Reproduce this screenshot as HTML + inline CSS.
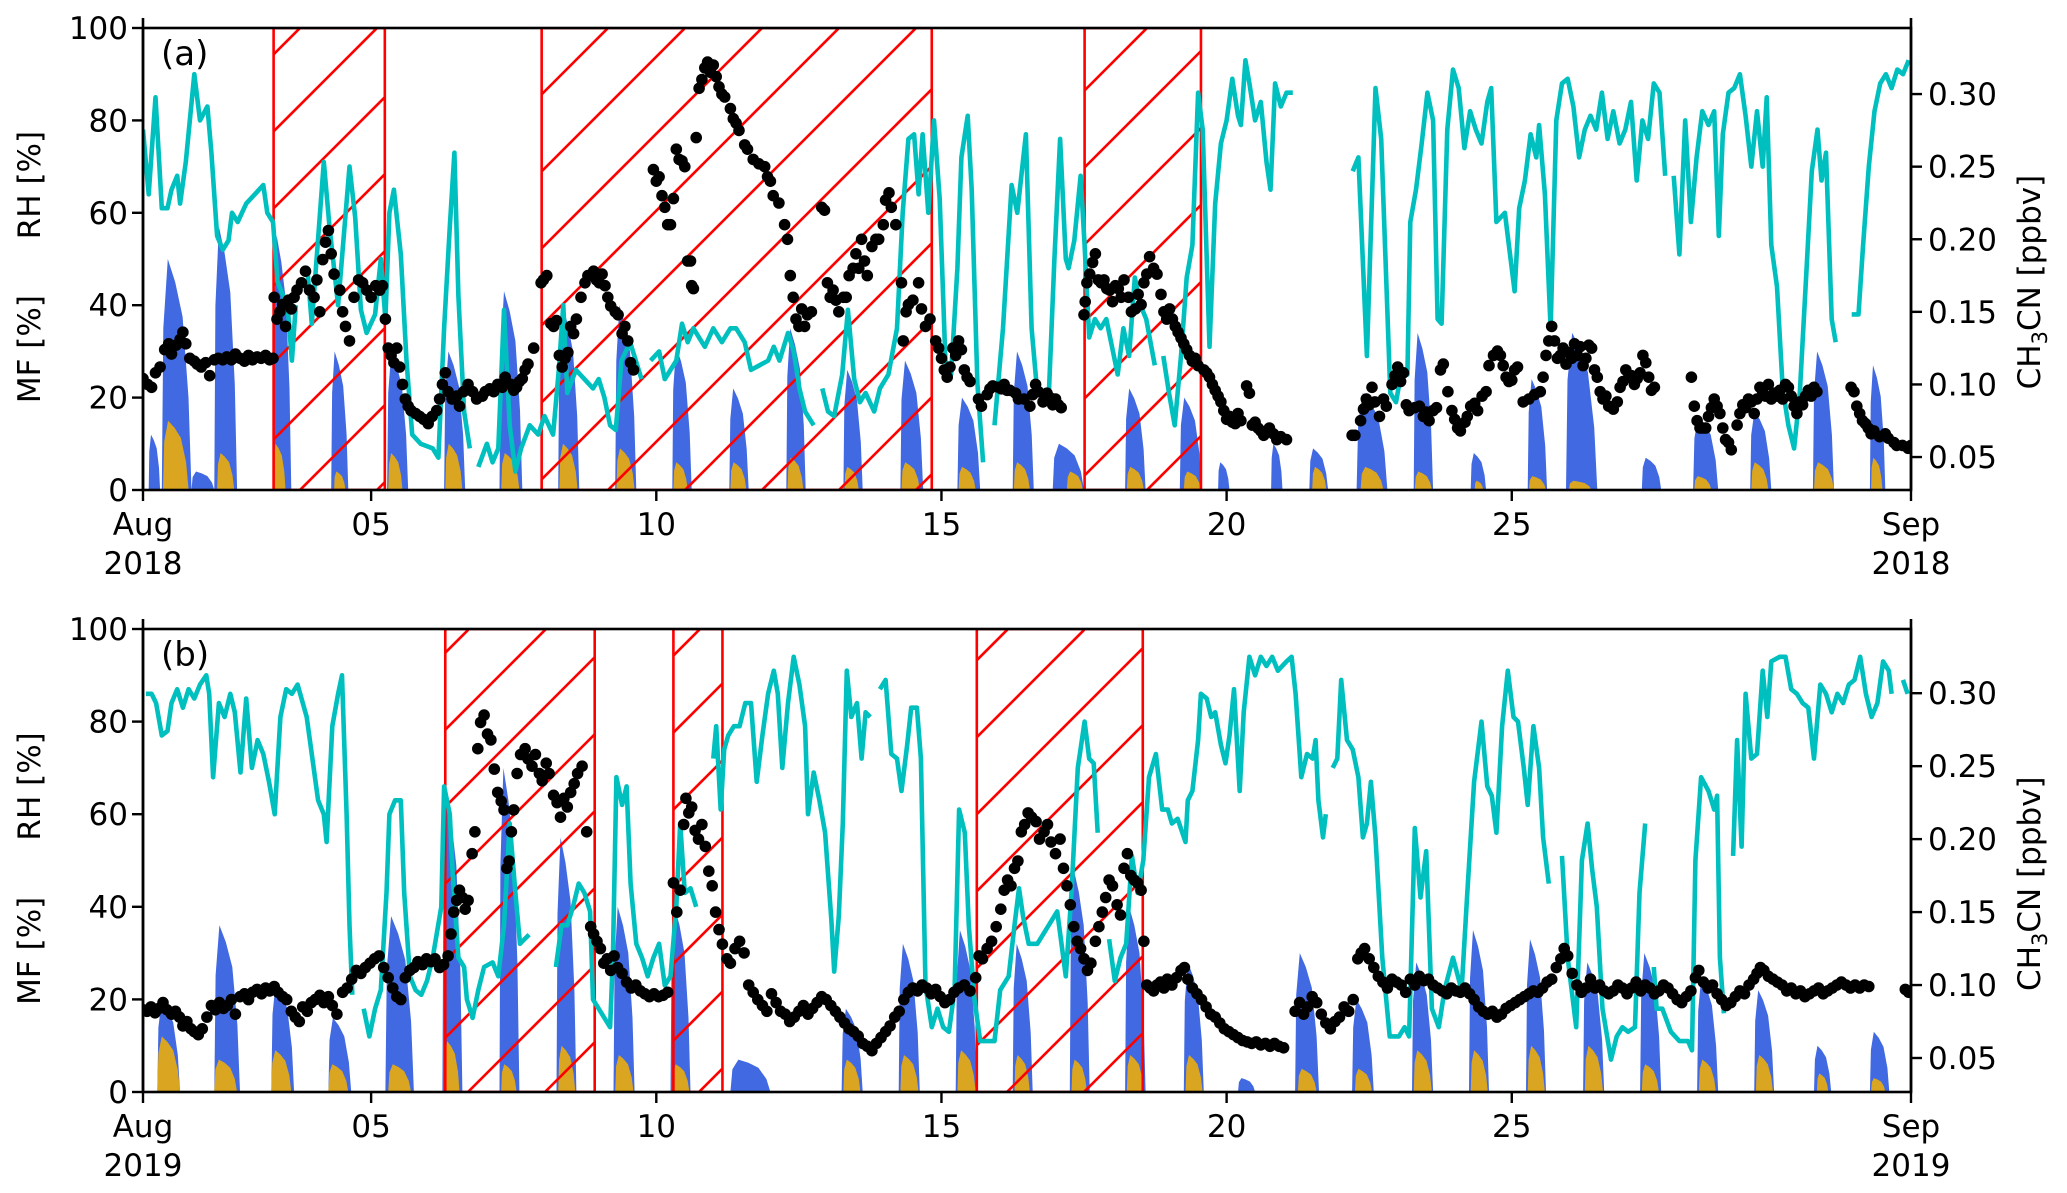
<!DOCTYPE html>
<html><head><meta charset="utf-8"><style>
html,body{margin:0;padding:0;background:#fff;}
svg{display:block;font-family:"DejaVu Sans","Liberation Sans",sans-serif;}
</style></head><body>
<svg id="chart" width="2067" height="1193" viewBox="0 0 2067 1193" xmlns="http://www.w3.org/2000/svg">
<defs>
<pattern id="hatch" patternUnits="userSpaceOnUse" width="77" height="77">
<line x1="-2" y1="22" x2="22" y2="-2" stroke="#ff0000" stroke-width="2.6"/>
<line x1="-2" y1="99" x2="99" y2="-2" stroke="#ff0000" stroke-width="2.6"/>
</pattern>
</defs>
</svg>
<script>
// ---------- data: panel (a) 2018 ----------
const xTickDays=[0,4,9,14,19,24,31];
const xTickLabelsA=["Aug","05","10","15","20","25","Sep"];
const yLeftTicks=[0,20,40,60,80,100];
const yRightTicks=[0.05,0.10,0.15,0.20,0.25,0.30];
const yRightLabels=["0.05","0.10","0.15","0.20","0.25","0.30"];
const hatchA=[[2.29,4.24],[6.99,13.83],[16.51,18.55]];
const hatchB=[[5.30,7.92],[9.30,10.16],[14.62,17.53]];
const rhA=[[0,78],[0.1,64],[0.22,85],[0.33,61],[0.43,61],[0.5,65],[0.6,68],[0.65,62],[0.75,71],[0.9,90],[1.0,80],[1.13,83],[1.2,73],[1.3,55],[1.4,52],[1.5,54],[1.56,60],[1.66,58],[1.81,62],[1.96,64],[2.11,66],[2.18,60],[2.28,58],[2.36,45],[2.46,42],[2.54,39],[2.61,28],[2.68,40],null,[2.88,48],[2.96,36],[3.17,71],[3.27,57],[3.42,40],[3.62,70],[3.72,59],[3.82,39],[3.92,34],[4.07,38],[4.17,50],[4.25,37],[4.32,60],[4.4,65],[4.52,51],[4.62,28],[4.72,12],[4.87,10],[5.08,9],[5.18,7],[5.28,35],[5.38,57],[5.46,73],[5.53,42],[5.63,17],[5.73,9],null,[5.88,5],[6.03,10],[6.13,6],[6.23,9],[6.33,39],[6.43,14],[6.53,4],[6.63,9],[6.78,14],[6.93,12],[7.04,16],[7.19,12],[7.29,26],[7.37,40],[7.44,21],[7.59,26],[7.74,24],[7.89,22],[7.99,24],[8.09,20],[8.19,14],[8.29,13],[8.39,28],[8.54,32],[8.64,28],[8.74,24],null,[8.9,28],[9.05,30],[9.15,24],[9.35,28],[9.45,36],[9.55,32],[9.65,35],[9.85,31],[10.0,35],[10.15,32],[10.3,35],[10.4,35],[10.55,32],[10.66,26],[10.81,27],[10.96,28],[11.06,31],[11.16,28],[11.31,34],[11.41,30],[11.51,22],[11.61,17],[11.76,14],null,[11.91,22],[12.01,17],[12.12,16],[12.26,25],[12.36,39],[12.47,24],[12.57,19],[12.67,21],[12.82,17],[12.92,22],[13.07,25],[13.22,35],[13.32,60],[13.42,76],[13.52,77],[13.6,64],[13.67,77],[13.77,60],[13.87,80],[13.97,63],[14.07,28],[14.17,25],[14.28,48],[14.35,72],[14.46,81],[14.53,65],[14.63,23],[14.73,6],null,[14.93,14],[15.08,35],[15.23,66],[15.33,60],[15.48,77],[15.58,35],[15.68,21],[15.73,21],[15.88,20],[15.98,50],[16.08,76],[16.18,50],[16.23,48],[16.33,54],[16.44,68],[16.51,53],[16.59,33],[16.69,37],[16.79,35],[16.89,37],[16.99,31],[17.09,25],[17.19,35],[17.29,29],[17.39,46],[17.49,40],[17.59,37],[17.74,27],null,[17.89,29],[17.99,21],[18.09,14],[18.2,29],[18.3,46],[18.4,53],[18.5,86],[18.58,78],[18.7,31],[18.8,62],[18.9,75],[19.0,80],[19.1,89],[19.2,81],[19.25,79],[19.33,93],[19.4,88],[19.5,80],[19.6,84],[19.7,71],[19.77,65],[19.85,88],[19.95,83],[20.05,86],[20.16,86],null,[21.21,69],[21.31,72],[21.46,29],[21.61,87],[21.71,76],[21.87,21],[21.97,19],[22.07,26],[22.17,25],[22.22,58],[22.32,65],[22.42,75],[22.52,86],[22.62,80],[22.7,37],[22.77,36],[22.87,78],[22.97,91],[23.07,87],[23.17,74],[23.27,82],[23.37,78],[23.47,75],[23.57,84],[23.64,87],[23.73,58],[23.88,60],[23.98,50],[24.05,43],[24.13,61],[24.23,67],[24.33,77],[24.43,72],[24.48,79],[24.58,64],[24.68,35],[24.78,80],[24.88,88],[24.98,89],[25.08,83],[25.18,72],[25.28,78],[25.38,81],[25.48,78],[25.58,86],[25.68,76],[25.78,82],[25.89,75],[25.99,78],[26.09,84],[26.19,67],[26.29,80],[26.39,76],[26.49,88],[26.59,86],[26.69,68],null,[26.84,68],[26.94,51],[27.04,80],[27.14,58],[27.24,72],[27.34,82],[27.45,79],[27.55,82],[27.63,55],[27.7,77],[27.8,86],[27.9,87],[28.0,90],[28.1,81],[28.2,70],[28.3,82],[28.4,70],[28.47,85],[28.55,53],[28.65,44],[28.75,22],[28.85,14],[28.95,9],[29.05,21],[29.16,46],[29.26,69],[29.36,78],[29.43,67],[29.51,73],[29.61,37],[29.68,32],null,[29.96,38],[30.08,38],[30.16,53],[30.26,70],[30.36,82],[30.46,88],[30.56,90],[30.66,87],[30.76,91],[30.86,90],[30.96,93]];
const ch3cnA=[[0.0,.104],[0.08,.100],[0.15,.098],[0.22,.108],[0.3,.112],[0.38,.124],[0.45,.128],[0.5,.121],[0.58,.127],[0.65,.131],[0.7,.136],[0.75,.128],[0.82,.118],[0.9,.116],[0.95,.114],[1.02,.112],[1.1,.115],[1.17,.106],[1.25,.117],[1.32,.118],[1.4,.117],[1.47,.119],[1.55,.117],[1.62,.121],[1.7,.118],[1.78,.116],[1.85,.120],[1.92,.117],[2.0,.119],[2.07,.118],[2.15,.120],[2.22,.117],[2.28,.118],[2.3,.160],[2.35,.145],[2.4,.150],[2.45,.155],[2.5,.140],[2.55,.158],[2.6,.152],[2.65,.160],[2.7,.165],[2.78,.170],[2.85,.178],[2.92,.165],[3.0,.160],[3.05,.172],[3.1,.150],[3.15,.186],[3.2,.198],[3.25,.206],[3.3,.190],[3.35,.176],[3.45,.165],[3.5,.150],[3.55,.140],[3.62,.130],[3.7,.160],[3.78,.172],[3.85,.170],[3.92,.165],[4.0,.160],[4.08,.168],[4.15,.165],[4.2,.168],[4.25,.145],[4.3,.125],[4.35,.120],[4.4,.115],[4.45,.125],[4.5,.112],[4.55,.100],[4.6,.090],[4.65,.085],[4.7,.082],[4.78,.080],[4.85,.078],[4.92,.076],[5.0,.073],[5.07,.078],[5.15,.082],[5.2,.090],[5.25,.100],[5.3,.108],[5.35,.095],[5.42,.090],[5.5,.092],[5.55,.085],[5.62,.095],[5.7,.100],[5.78,.095],[5.85,.090],[5.95,.092],[6.0,.095],[6.08,.097],[6.15,.095],[6.22,.100],[6.3,.098],[6.35,.105],[6.45,.100],[6.5,.096],[6.55,.098],[6.6,.102],[6.65,.104],[6.7,.110],[6.75,.114],[6.85,.125],[6.98,.170],[7.02,.172],[7.08,.175],[7.15,.142],[7.2,.140],[7.25,.144],[7.3,.120],[7.35,.112],[7.4,.118],[7.45,.122],[7.5,.140],[7.55,.135],[7.6,.145],[7.68,.160],[7.75,.170],[7.8,.175],[7.85,.175],[7.9,.178],[7.95,.172],[8.0,.170],[8.05,.176],[8.1,.168],[8.15,.160],[8.2,.154],[8.28,.150],[8.33,.148],[8.4,.135],[8.45,.140],[8.5,.130],[8.55,.115],[8.6,.110],[8.95,.248],[9.0,.240],[9.05,.243],[9.1,.230],[9.15,.222],[9.2,.210],[9.25,.210],[9.3,.228],[9.35,.262],[9.4,.255],[9.45,.254],[9.5,.250],[9.55,.185],[9.6,.185],[9.62,.168],[9.65,.166],[9.7,.270],[9.75,.304],[9.8,.310],[9.85,.318],[9.9,.322],[9.95,.315],[10.0,.320],[10.05,.312],[10.1,.305],[10.15,.300],[10.2,.298],[10.3,.290],[10.35,.283],[10.4,.280],[10.45,.275],[10.55,.265],[10.6,.262],[10.7,.255],[10.8,.252],[10.9,.250],[10.95,.243],[11.0,.240],[11.05,.230],[11.15,.225],[11.25,.210],[11.3,.200],[11.35,.175],[11.4,.160],[11.45,.145],[11.5,.140],[11.55,.152],[11.6,.140],[11.65,.148],[11.72,.150],[11.9,.222],[11.95,.220],[12.0,.170],[12.05,.160],[12.1,.165],[12.15,.158],[12.2,.150],[12.28,.160],[12.33,.160],[12.38,.175],[12.45,.180],[12.5,.190],[12.55,.180],[12.6,.200],[12.65,.185],[12.7,.175],[12.78,.195],[12.85,.200],[12.9,.200],[12.98,.210],[13.02,.227],[13.08,.232],[13.12,.222],[13.2,.210],[13.3,.170],[13.33,.130],[13.38,.150],[13.42,.155],[13.5,.158],[13.6,.170],[13.65,.152],[13.72,.140],[13.8,.145],[13.9,.130],[13.95,.125],[14.0,.118],[14.05,.110],[14.1,.105],[14.15,.112],[14.2,.125],[14.25,.120],[14.3,.130],[14.35,.124],[14.4,.110],[14.45,.105],[14.5,.102],[14.65,.090],[14.7,.085],[14.8,.093],[14.85,.097],[14.9,.099],[15.0,.098],[15.05,.097],[15.1,.100],[15.15,.096],[15.2,.096],[15.3,.094],[15.35,.090],[15.45,.090],[15.55,.085],[15.6,.093],[15.65,.100],[15.7,.095],[15.78,.088],[15.85,.094],[15.9,.091],[15.95,.086],[16.0,.090],[16.05,.086],[16.1,.084],[16.5,.148],[16.52,.157],[16.55,.170],[16.6,.176],[16.65,.184],[16.7,.190],[16.75,.172],[16.8,.170],[16.85,.172],[16.9,.166],[16.95,.165],[17.0,.157],[17.05,.168],[17.1,.166],[17.15,.160],[17.2,.172],[17.28,.160],[17.33,.150],[17.4,.152],[17.45,.162],[17.5,.155],[17.55,.170],[17.6,.176],[17.65,.188],[17.72,.180],[17.78,.176],[17.85,.162],[17.9,.150],[17.95,.145],[18.0,.152],[18.05,.145],[18.1,.140],[18.15,.136],[18.2,.132],[18.25,.128],[18.3,.124],[18.35,.120],[18.4,.116],[18.45,.118],[18.5,.113],[18.6,.110],[18.65,.108],[18.7,.105],[18.75,.100],[18.8,.096],[18.85,.092],[18.9,.088],[18.95,.082],[19.0,.076],[19.05,.078],[19.1,.074],[19.15,.073],[19.2,.080],[19.25,.075],[19.35,.099],[19.4,.094],[19.45,.072],[19.5,.074],[19.55,.070],[19.6,.068],[19.65,.065],[19.7,.068],[19.75,.070],[19.82,.066],[19.88,.062],[19.95,.064],[20.05,.062],[21.2,.065],[21.25,.065],[21.35,.075],[21.4,.083],[21.45,.090],[21.5,.086],[21.55,.098],[21.6,.088],[21.68,.078],[21.75,.090],[21.8,.085],[21.9,.100],[21.95,.106],[22.0,.112],[22.05,.102],[22.1,.108],[22.15,.086],[22.2,.082],[22.3,.084],[22.38,.085],[22.45,.078],[22.5,.081],[22.55,.075],[22.62,.082],[22.68,.084],[22.75,.110],[22.8,.114],[22.88,.095],[22.95,.082],[23.0,.076],[23.05,.070],[23.1,.068],[23.18,.074],[23.22,.078],[23.28,.085],[23.35,.087],[23.4,.082],[23.48,.092],[23.55,.095],[23.6,.113],[23.68,.120],[23.75,.123],[23.8,.120],[23.85,.113],[23.9,.105],[23.95,.102],[24.0,.103],[24.05,.110],[24.1,.112],[24.2,.088],[24.3,.090],[24.4,.093],[24.5,.095],[24.55,.105],[24.6,.120],[24.65,.130],[24.7,.140],[24.75,.130],[24.8,.118],[24.85,.120],[24.9,.125],[24.95,.114],[25.0,.122],[25.05,.118],[25.1,.128],[25.15,.120],[25.2,.126],[25.25,.113],[25.3,.118],[25.35,.127],[25.4,.125],[25.45,.110],[25.5,.105],[25.55,.095],[25.6,.090],[25.65,.092],[25.7,.085],[25.78,.083],[25.85,.088],[25.9,.098],[25.95,.102],[26.0,.110],[26.05,.105],[26.1,.106],[26.15,.100],[26.2,.104],[26.25,.108],[26.3,.120],[26.35,.115],[26.4,.105],[26.45,.096],[26.5,.098],[27.15,.105],[27.2,.085],[27.25,.075],[27.3,.070],[27.35,.070],[27.4,.070],[27.45,.078],[27.5,.084],[27.55,.090],[27.6,.085],[27.65,.080],[27.7,.070],[27.75,.062],[27.8,.060],[27.85,.055],[27.95,.072],[28.0,.080],[28.05,.086],[28.1,.084],[28.15,.090],[28.2,.088],[28.25,.080],[28.3,.090],[28.35,.098],[28.4,.095],[28.45,.092],[28.5,.100],[28.55,.090],[28.6,.094],[28.65,.092],[28.7,.096],[28.75,.090],[28.8,.100],[28.85,.098],[28.9,.092],[28.95,.085],[29.0,.080],[29.05,.088],[29.1,.086],[29.15,.092],[29.2,.096],[29.25,.092],[29.3,.098],[29.35,.095],[29.95,.098],[30.0,.095],[30.05,.085],[30.1,.080],[30.15,.075],[30.2,.073],[30.25,.070],[30.3,.066],[30.35,.068],[30.45,.064],[30.55,.066],[30.6,.063],[30.7,.060],[30.75,.058],[30.85,.058],[30.95,.056],[31.0,.058]];
const mfTotalA=[[0.1,0.3,12],[0.33,0.85,50],[0.85,1.25,4],[1.25,1.65,57],[2.28,2.6,55],[3.3,3.6,30],[4.28,4.65,30],[5.28,5.65,30],[6.25,6.65,43],[7.28,7.65,40],[8.28,8.65,40],[9.28,9.62,31],[10.28,10.62,22],[11.28,11.62,35],[12.28,12.62,26],[13.28,13.68,28],[14.28,14.68,20],[15.25,15.62,30],[15.95,16.5,10],[17.22,17.58,22],[18.18,18.56,20],[18.85,19.05,6],[19.78,19.98,10],[20.45,20.78,9],[21.28,21.82,21],[22.28,22.62,34],[23.28,23.55,8],[24.28,24.62,24],[24.95,25.5,34],[26.28,26.62,7],[27.18,27.62,16],[28.18,28.55,17],[29.28,29.65,30],[30.28,30.55,27]];
const mfPartA=[[0.35,0.8,15],[1.3,1.6,8],[2.28,2.5,10],[3.35,3.55,4],[4.3,4.55,8],[5.3,5.6,10],[6.28,6.6,8],[7.3,7.62,10],[8.3,8.62,9],[9.3,9.55,6],[10.3,10.58,6],[11.3,11.58,7],[12.3,12.55,5],[13.3,13.62,6],[14.3,14.6,5],[15.27,15.55,6],[16.2,16.48,4],[17.25,17.55,5],[18.25,18.55,4],[20.5,20.75,5],[21.35,21.75,5],[22.3,22.6,4],[23.35,23.5,2],[24.3,24.6,3],[25.0,25.4,2],[27.2,27.5,3],[28.2,28.5,6],[29.3,29.65,6],[30.3,30.5,7]];
// ---------- data: panel (b) 2019 ----------
const rhB=[[0.05,86],[0.15,86],[0.23,84],[0.33,77],[0.43,78],[0.5,84],[0.6,87],[0.7,83],[0.8,87],[0.9,85],[1.0,88],[1.11,90],[1.16,86],[1.23,68],[1.33,84],[1.43,81],[1.53,86],[1.61,82],[1.71,69],[1.81,85],[1.91,70],[2.01,76],[2.11,73],[2.21,67],[2.31,60],[2.41,81],[2.51,87],[2.61,86],[2.71,88],[2.87,81],[2.97,72],[3.07,63],[3.17,60],[3.22,54],[3.32,79],[3.42,86],[3.49,90],[3.57,60],[3.62,36],[3.67,21],null,[3.87,18],[3.97,12],[4.07,18],[4.17,22],[4.27,43],[4.32,60],[4.42,63],[4.52,63],[4.58,43],[4.68,25],[4.78,22],[4.88,21],[4.98,24],[5.08,29],[5.23,40],[5.28,66],[5.38,60],[5.43,47],[5.53,29],[5.63,27],[5.68,20],[5.78,16],[5.88,22],[5.98,27],[6.13,28],[6.23,25],[6.33,36],[6.43,58],[6.53,43],[6.61,32],[6.69,33],[6.77,34],null,[7.24,27],[7.34,36],[7.44,36],[7.54,40],[7.64,45],[7.74,43],[7.84,39],[7.89,20],[7.99,18],[8.09,16],[8.19,14],[8.24,29],[8.3,68],[8.4,62],[8.48,66],[8.55,45],[8.65,32],[8.75,29],[8.85,25],[8.95,29],[9.05,32],[9.15,23],[9.25,25],[9.35,40],[9.42,58],[9.5,43],[9.6,44],[9.7,40],null,[10.0,72],[10.05,79],[10.13,61],[10.19,74],[10.26,77],[10.36,79],[10.46,79],[10.56,84],[10.66,84],[10.76,67],[10.86,77],[10.96,86],[11.06,91],[11.13,86],[11.21,70],[11.31,84],[11.41,94],[11.51,88],[11.61,79],[11.66,60],[11.76,69],[11.86,63],[11.96,56],[12.07,37],[12.12,26],[12.2,38],[12.27,58],[12.34,91],[12.42,81],[12.52,84],[12.6,72],[12.67,82],[12.75,81],null,[12.92,87],[13.02,89],[13.12,73],[13.22,72],[13.3,65],[13.4,75],[13.47,83],[13.57,83],[13.64,72],[13.72,23],[13.83,14],[13.93,18],[14.03,14],[14.13,13],[14.23,22],[14.31,61],[14.41,56],[14.48,36],[14.58,20],[14.68,11],[14.83,11],[14.93,11],[15.03,22],[15.18,25],[15.28,36],[15.36,44],[15.43,38],[15.53,32],[15.63,32],[15.68,32],[15.88,36],[16.03,39],[16.18,25],[16.28,43],[16.39,70],[16.51,80],[16.59,72],[16.67,71],[16.74,56],null,[16.94,33],[17.04,24],[17.14,29],[17.24,32],[17.34,51],[17.44,43],[17.54,50],[17.64,68],[17.76,73],[17.87,61],[17.97,61],[18.04,58],[18.14,59],[18.28,54],[18.32,63],[18.4,65],[18.5,76],[18.55,86],[18.65,85],[18.73,81],[18.8,82],[18.9,75],[18.98,71],[19.05,77],[19.13,87],[19.23,65],[19.3,82],[19.4,94],[19.5,90],[19.6,94],[19.7,92],[19.8,94],[19.9,91],[20.05,93],[20.14,94],[20.21,86],[20.31,68],[20.41,73],[20.51,72],[20.56,76],[20.61,63],[20.69,55],[20.74,60],null,[20.86,70],[20.94,72],[21.01,89],[21.11,76],[21.21,74],[21.31,68],[21.39,55],[21.46,58],[21.53,67],[21.61,55],[21.73,29],[21.86,12],[22.02,12],[22.12,14],[22.2,12],[22.3,57],[22.4,42],[22.5,52],[22.6,18],[22.72,14],[22.82,22],[22.97,29],[23.12,22],[23.22,43],[23.34,67],[23.47,80],[23.57,66],[23.65,64],[23.73,56],[23.83,79],[23.93,91],[24.03,81],[24.11,80],[24.21,70],[24.28,62],[24.38,79],[24.48,70],[24.55,55],[24.65,45],null,[24.88,51],[24.98,29],[25.13,14],[25.23,50],[25.33,58],[25.41,48],[25.49,40],[25.59,18],[25.74,7],[25.84,12],[25.94,14],[26.04,13],[26.16,14],[26.24,43],[26.34,58],null,[26.49,27],[26.54,18],[26.64,18],[26.79,13],[26.94,11],[27.09,11],[27.16,9],[27.22,50],[27.32,68],[27.45,65],[27.55,61],[27.6,64],[27.65,29],[27.72,17],null,[27.88,51],[27.95,76],[28.03,53],[28.1,86],[28.2,72],[28.3,73],[28.4,91],[28.48,81],[28.55,93],[28.7,94],[28.8,94],[28.9,87],[29.0,86],[29.1,84],[29.2,83],[29.3,72],[29.41,88],[29.51,86],[29.61,82],[29.71,86],[29.81,84],[29.91,88],[30.01,89],[30.11,94],[30.21,86],[30.31,81],[30.41,84],[30.51,93],[30.61,91],[30.66,86],null,[30.86,89],[30.94,86]];
const ch3cnB=[[0.0,.083],[0.07,.082],[0.14,.085],[0.21,.081],[0.28,.084],[0.35,.088],[0.42,.083],[0.5,.080],[0.57,.082],[0.64,.078],[0.7,.072],[0.77,.075],[0.84,.070],[0.9,.068],[0.97,.066],[1.04,.070],[1.12,.078],[1.2,.086],[1.27,.083],[1.34,.088],[1.41,.084],[1.48,.086],[1.55,.090],[1.62,.080],[1.7,.092],[1.78,.094],[1.85,.090],[1.92,.095],[2.0,.097],[2.08,.094],[2.15,.098],[2.22,.096],[2.3,.099],[2.37,.095],[2.45,.092],[2.52,.090],[2.6,.082],[2.67,.078],[2.74,.075],[2.8,.085],[2.88,.082],[2.95,.088],[3.02,.090],[3.1,.093],[3.17,.088],[3.25,.092],[3.32,.086],[3.4,.080],[3.5,.095],[3.58,.098],[3.66,.104],[3.74,.110],[3.82,.108],[3.9,.112],[3.98,.115],[4.06,.118],[4.14,.120],[4.22,.112],[4.3,.105],[4.38,.098],[4.45,.092],[4.52,.090],[4.6,.105],[4.68,.110],[4.75,.112],[4.82,.116],[4.9,.114],[4.97,.118],[5.05,.116],[5.12,.118],[5.2,.112],[5.27,.114],[5.35,.120],[5.4,.135],[5.45,.150],[5.5,.158],[5.55,.165],[5.6,.160],[5.65,.152],[5.7,.158],[5.77,.190],[5.82,.205],[5.87,.262],[5.92,.280],[5.98,.285],[6.04,.272],[6.1,.268],[6.16,.248],[6.22,.232],[6.28,.226],[6.33,.220],[6.38,.180],[6.42,.185],[6.46,.205],[6.5,.220],[6.56,.245],[6.62,.258],[6.7,.262],[6.75,.255],[6.82,.250],[6.88,.258],[6.95,.245],[7.0,.240],[7.07,.252],[7.12,.245],[7.2,.230],[7.26,.225],[7.32,.215],[7.38,.228],[7.44,.222],[7.5,.232],[7.56,.238],[7.62,.245],[7.7,.250],[7.78,.205],[7.85,.140],[7.9,.135],[7.96,.130],[8.02,.125],[8.08,.115],[8.14,.118],[8.2,.110],[8.26,.120],[8.32,.112],[8.4,.108],[8.48,.102],[8.56,.098],[8.64,.100],[8.72,.096],[8.8,.094],[8.88,.092],[8.96,.094],[9.04,.092],[9.12,.093],[9.2,.095],[9.3,.170],[9.36,.150],[9.42,.165],[9.48,.210],[9.52,.228],[9.57,.218],[9.62,.222],[9.68,.206],[9.74,.200],[9.8,.210],[9.86,.195],[9.92,.178],[9.98,.168],[10.04,.150],[10.1,.138],[10.16,.128],[10.24,.118],[10.3,.115],[10.38,.125],[10.46,.130],[10.54,.122],[10.62,.100],[10.7,.095],[10.78,.090],[10.86,.086],[10.94,.082],[11.02,.094],[11.1,.088],[11.18,.082],[11.26,.080],[11.34,.075],[11.42,.078],[11.5,.082],[11.58,.086],[11.66,.080],[11.74,.084],[11.82,.088],[11.9,.092],[11.98,.090],[12.06,.086],[12.14,.082],[12.22,.078],[12.3,.074],[12.38,.070],[12.46,.068],[12.54,.065],[12.62,.060],[12.7,.058],[12.78,.055],[12.86,.060],[12.94,.064],[13.02,.068],[13.1,.072],[13.18,.078],[13.26,.082],[13.34,.090],[13.42,.095],[13.5,.098],[13.58,.096],[13.66,.100],[13.74,.098],[13.82,.094],[13.9,.097],[13.98,.092],[14.06,.088],[14.14,.090],[14.22,.095],[14.3,.098],[14.4,.100],[14.5,.096],[14.6,.105],[14.66,.120],[14.72,.118],[14.8,.125],[14.88,.130],[14.96,.140],[15.04,.152],[15.1,.165],[15.16,.172],[15.22,.168],[15.28,.180],[15.34,.185],[15.4,.205],[15.46,.210],[15.52,.218],[15.58,.215],[15.66,.212],[15.72,.200],[15.8,.205],[15.86,.210],[15.92,.198],[16.0,.190],[16.08,.200],[16.14,.180],[16.2,.168],[16.26,.155],[16.32,.140],[16.38,.130],[16.44,.125],[16.5,.118],[16.56,.110],[16.62,.115],[16.7,.130],[16.76,.140],[16.82,.150],[16.88,.160],[16.94,.172],[17.0,.168],[17.08,.155],[17.14,.148],[17.2,.180],[17.26,.190],[17.32,.175],[17.38,.172],[17.44,.170],[17.5,.165],[17.55,.130],[17.6,.100],[17.66,.098],[17.72,.096],[17.78,.100],[17.84,.102],[17.9,.098],[17.96,.104],[18.04,.100],[18.12,.105],[18.2,.110],[18.26,.112],[18.32,.104],[18.4,.098],[18.48,.094],[18.56,.090],[18.64,.085],[18.72,.080],[18.8,.078],[18.88,.074],[18.96,.070],[19.04,.068],[19.12,.066],[19.2,.064],[19.28,.062],[19.36,.061],[19.44,.060],[19.52,.061],[19.6,.059],[19.68,.060],[19.76,.058],[19.84,.060],[19.92,.058],[20.0,.057],[20.2,.082],[20.28,.088],[20.35,.080],[20.42,.085],[20.5,.092],[20.58,.088],[20.66,.080],[20.74,.074],[20.82,.070],[20.9,.075],[20.98,.078],[21.06,.085],[21.14,.082],[21.22,.090],[21.3,.118],[21.36,.122],[21.42,.125],[21.5,.118],[21.58,.112],[21.66,.106],[21.74,.102],[21.82,.098],[21.9,.104],[21.98,.102],[22.06,.100],[22.14,.095],[22.22,.104],[22.3,.100],[22.38,.106],[22.46,.103],[22.54,.104],[22.62,.100],[22.7,.098],[22.78,.096],[22.86,.094],[22.94,.098],[23.02,.096],[23.1,.095],[23.18,.098],[23.26,.094],[23.34,.090],[23.42,.085],[23.5,.082],[23.58,.080],[23.66,.082],[23.74,.078],[23.82,.080],[23.9,.084],[23.98,.086],[24.06,.088],[24.14,.090],[24.22,.092],[24.3,.094],[24.38,.096],[24.46,.095],[24.54,.098],[24.62,.102],[24.7,.104],[24.78,.112],[24.86,.118],[24.92,.125],[24.98,.120],[25.06,.108],[25.14,.100],[25.22,.095],[25.3,.098],[25.38,.104],[25.46,.098],[25.54,.100],[25.62,.096],[25.7,.094],[25.78,.096],[25.86,.100],[25.94,.098],[26.02,.094],[26.1,.098],[26.18,.102],[26.26,.096],[26.34,.100],[26.42,.098],[26.5,.094],[26.58,.096],[26.66,.100],[26.74,.098],[26.82,.094],[26.9,.090],[26.98,.088],[27.06,.092],[27.14,.096],[27.22,.105],[27.28,.110],[27.36,.102],[27.44,.098],[27.52,.100],[27.6,.094],[27.68,.090],[27.76,.086],[27.84,.088],[27.92,.092],[28.0,.096],[28.08,.094],[28.16,.100],[28.24,.104],[28.3,.108],[28.36,.112],[28.42,.110],[28.5,.106],[28.58,.104],[28.66,.102],[28.74,.100],[28.82,.096],[28.9,.098],[28.98,.094],[29.06,.096],[29.14,.092],[29.22,.094],[29.3,.096],[29.38,.098],[29.46,.094],[29.54,.096],[29.62,.098],[29.7,.100],[29.78,.102],[29.86,.100],[29.94,.098],[30.02,.100],[30.1,.098],[30.18,.100],[30.26,.099],[30.9,.097],[30.96,.095]];
const mfTotalB=[[0.25,0.65,20],[1.25,1.7,36],[2.25,2.65,24],[3.25,3.65,16],[4.25,4.75,38],[5.25,5.6,65],[6.25,6.6,70],[7.25,7.6,55],[8.25,8.62,40],[9.25,9.6,40],[10.3,11.0,7],[12.25,12.62,18],[13.25,13.62,32],[14.25,14.62,35],[15.25,15.6,32],[16.25,16.6,48],[17.22,17.58,40],[18.25,18.6,28],[19.2,19.5,3],[20.2,20.62,30],[21.2,21.58,20],[22.25,22.62,28],[23.25,23.6,35],[24.25,24.6,33],[25.25,25.62,28],[26.25,26.62,30],[27.25,27.62,25],[28.25,28.6,22],[29.3,29.6,10],[30.28,30.62,13]];
const mfPartB=[[0.25,0.65,12],[1.25,1.65,7],[2.25,2.6,9],[3.25,3.6,6],[4.3,4.7,6],[5.28,5.55,11],[6.28,6.55,6],[7.28,7.58,10],[8.28,8.6,8],[9.28,9.58,6],[12.28,12.58,7],[13.28,13.6,8],[14.28,14.6,9],[15.28,15.55,8],[16.28,16.55,7],[17.25,17.55,8],[18.28,18.58,8],[20.25,20.58,5],[21.25,21.55,5],[22.28,22.6,9],[23.28,23.58,9],[24.28,24.58,10],[25.28,25.6,10],[26.28,26.58,6],[27.28,27.58,7],[28.28,28.58,8],[29.35,29.55,4],[30.3,30.55,3]];

const NS="http://www.w3.org/2000/svg";
const svg=document.getElementById('chart');
const X0=143,X1=1911,NDAYS=31;
const FS=31;
function xScale(d){return X0+(X1-X0)*d/NDAYS;}
function mk(tag,attrs,parent){const e=document.createElementNS(NS,tag);for(const k in attrs)e.setAttribute(k,attrs[k]);(parent||svg).appendChild(e);return e;}

function drawPanel(p){
  const g=mk('g',{});
  
  
  const yL=v=>p.bot-(p.bot-p.top)*v/100;
  const yR=v=>p.bot-(p.bot-p.top)*(v-p.r0)/(p.r1-p.r0);
  const clipId='clip'+p.id;
  const cp=mk('clipPath',{id:clipId},g);
  mk('rect',{x:X0,y:p.top,width:X1-X0,height:p.bot-p.top},cp);
  const plot=mk('g',{'clip-path':'url(#'+clipId+')'},g);
  function areaPath(events){
    let d='';
    events.forEach(ev=>{const s=ev[0],e=ev[1],pk=ev[2],w=e-s;
      const pts=[[s,0],[s+0.05*w,0.7*pk],[s+0.2*w,pk],[s+0.45*w,0.9*pk],[s+0.7*w,0.75*pk],[s+0.9*w,0.4*pk],[e,0]];
      d+='M'+pts.map(q=>xScale(q[0]).toFixed(1)+','+yL(q[1]).toFixed(1)).join('L')+'Z';});
    return d;
  }
  const blue=mk('path',{d:areaPath(p.total),fill:'#4169e1'},plot);
  
  
  const orange=mk('path',{d:areaPath(p.part),fill:'#daa520'},plot);
  
  
  p.hatch.forEach((h,i)=>{
    const x1=xScale(h[0]),x2=xScale(h[1]);
    const r=mk('rect',{x:x1,y:p.top,width:x2-x1,height:p.bot-p.top,fill:'url(#hatch)',stroke:'#ff0000','stroke-width':2.6},plot);
    
    
  });
  let d='',pen=false;
  p.rh.forEach(q=>{if(q===null){pen=false;return;}d+=(pen?'L':'M')+xScale(q[0]).toFixed(1)+','+yL(q[1]).toFixed(1);pen=true;});
  const line=mk('path',{d:d,fill:'none',stroke:'#00bfbf','stroke-width':4.6,'stroke-linejoin':'round'},plot);
  
  
  const dg=mk('g',{fill:'#000'},plot);
  
  
  p.dots.forEach(q=>{const c=mk('circle',{cx:xScale(q[0]).toFixed(1),cy:yR(q[1]).toFixed(1),r:5.8},dg);
    
    });
  const fr=mk('rect',{x:X0,y:p.top,width:X1-X0,height:p.bot-p.top,fill:'none',stroke:'#000','stroke-width':2.6},g);
  
  
  mk('line',{x1:X0,y1:p.top-10,x2:X0,y2:p.bot,stroke:'#000','stroke-width':2.6},g);
  mk('line',{x1:X1,y1:p.top-10,x2:X1,y2:p.bot,stroke:'#000','stroke-width':2.6},g);
  yLeftTicks.forEach(v=>{const y=yL(v);mk('line',{x1:X0-11,y1:y,x2:X0,y2:y,stroke:'#000','stroke-width':2.4},g);
    const t=mk('text',{x:X0-15,y:y+11,'text-anchor':'end','font-size':FS},g);t.textContent=String(v);
    
    });
  yRightTicks.forEach((v,i)=>{const y=yR(v);mk('line',{x1:X1,y1:y,x2:X1+11,y2:y,stroke:'#000','stroke-width':2.4},g);
    const t=mk('text',{x:X1+17,y:y+11,'font-size':FS},g);t.textContent=yRightLabels[i];
    
    });
  xTickDays.forEach((dd,i)=>{const x=xScale(dd);mk('line',{x1:x,y1:p.bot,x2:x,y2:p.bot+11,stroke:'#000','stroke-width':2.4},g);
    const t=mk('text',{x:x,y:p.bot+45,'text-anchor':'middle','font-size':FS},g);t.textContent=xTickLabelsA[i];
    
    
    if(i===0||i===xTickDays.length-1){const t2=mk('text',{x:x,y:p.bot+84,'text-anchor':'middle','font-size':FS},g);t2.textContent=p.year;
      
      }
  });
  const lab=mk('text',{x:161,y:p.top+37,'font-size':34},g);lab.textContent='('+p.id+')';
  
  
  const yh=p.bot-p.top;
  const rh=mk('text',{transform:'translate(40,'+(p.top+yh*0.34)+') rotate(-90)','text-anchor':'middle','font-size':FS},g);rh.textContent='RH [%]';
  
  
  const mf=mk('text',{transform:'translate(40,'+(p.top+yh*0.695)+') rotate(-90)','text-anchor':'middle','font-size':FS},g);mf.textContent='MF [%]';
  
  
  const rt=mk('text',{transform:'translate(2040,'+(p.top+yh*0.55)+') rotate(-90)','text-anchor':'middle','font-size':FS},g);
  
  
  const s1=mk('tspan',{},rt);s1.textContent='CH';
  const s2=mk('tspan',{'font-size':21,dy:7},rt);s2.textContent='3';
  const s3=mk('tspan',{dy:-7},rt);s3.textContent='CN [ppbv]';
}
drawPanel({id:'a',top:28,bot:490,r0:0.0273,r1:0.3455,year:'2018',hatch:hatchA,rh:rhA,dots:ch3cnA,total:mfTotalA,part:mfPartA});
drawPanel({id:'b',top:629,bot:1092,r0:0.0267,r1:0.344,year:'2019',hatch:hatchB,rh:rhB,dots:ch3cnB,total:mfTotalB,part:mfPartB});
</script>
</body></html>
